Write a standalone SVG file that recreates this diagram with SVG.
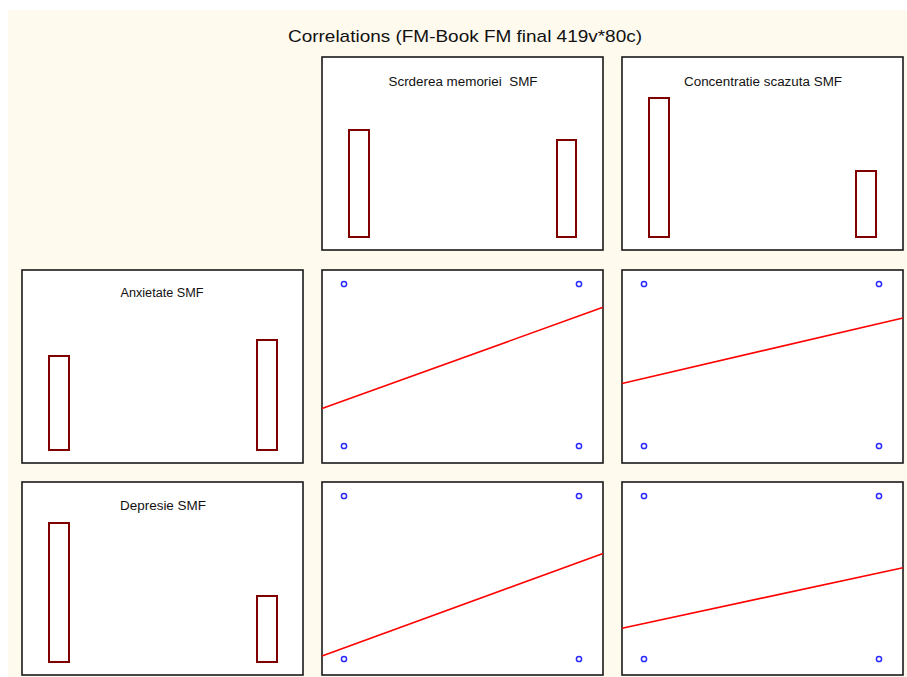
<svg xmlns="http://www.w3.org/2000/svg" width="907" height="677" viewBox="0 0 907 677">
<style>
.bg{fill:#fffaee}
.panel{fill:#ffffff;stroke:#1a1a1a;stroke-width:1.6}
.bar{fill:#ffffff;stroke:#800000;stroke-width:2}
.pt{fill:none;stroke:#2a2aff;stroke-width:1.5}
.fit{stroke:#ff0000;stroke-width:1.6;fill:none}
.title{font-family:"Liberation Sans",Arial,sans-serif;font-size:17px;fill:#111}
.lbl{font-family:"Liberation Sans",Arial,sans-serif;font-size:12.5px;fill:#111}
</style>
<rect x="0" y="0" width="907" height="677" fill="#ffffff"/>
<rect class="bg" x="8" y="10" width="899" height="667"/>
<text class="title" x="465" y="42" text-anchor="middle" textLength="354" lengthAdjust="spacingAndGlyphs">Correlations (FM-Book FM final 419v*80c)</text>

<g id="hist-scrderea">
<rect class="panel" x="322" y="57" width="281" height="193"/>
<text class="lbl" x="463" y="86" text-anchor="middle" textLength="149" lengthAdjust="spacingAndGlyphs" xml:space="preserve">Scrderea memoriei  SMF</text>
<rect class="bar" x="349" y="130" width="20" height="107"/>
<rect class="bar" x="557" y="140" width="19" height="97"/>
</g>
<g id="hist-concentratie">
<rect class="panel" x="622" y="57" width="281" height="193"/>
<text class="lbl" x="763" y="86" text-anchor="middle" textLength="158" lengthAdjust="spacingAndGlyphs">Concentratie scazuta SMF</text>
<rect class="bar" x="649" y="98" width="20" height="139"/>
<rect class="bar" x="856" y="171" width="20" height="66"/>
</g>
<g id="hist-anxietate">
<rect class="panel" x="22" y="270" width="281" height="193"/>
<text class="lbl" x="162" y="297" text-anchor="middle" textLength="83" lengthAdjust="spacingAndGlyphs">Anxietate SMF</text>
<rect class="bar" x="49" y="356" width="20" height="94"/>
<rect class="bar" x="257" y="340" width="20" height="110"/>
</g>
<g id="hist-depresie">
<rect class="panel" x="22" y="482" width="281" height="193"/>
<text class="lbl" x="163" y="510" text-anchor="middle" textLength="86" lengthAdjust="spacingAndGlyphs">Depresie SMF</text>
<rect class="bar" x="49" y="523" width="20" height="139"/>
<rect class="bar" x="257" y="596" width="20" height="66"/>
</g>

<g id="scatter-anx-scr">
<rect class="panel" x="322" y="270" width="281" height="193"/>
<circle class="pt" cx="344" cy="284" r="2.6"/>
<circle class="pt" cx="579" cy="284" r="2.6"/>
<circle class="pt" cx="344" cy="446" r="2.6"/>
<circle class="pt" cx="579" cy="446" r="2.6"/>
</g>
<g id="scatter-anx-con">
<rect class="panel" x="622" y="270" width="281" height="193"/>
<circle class="pt" cx="644" cy="284" r="2.6"/>
<circle class="pt" cx="879" cy="284" r="2.6"/>
<circle class="pt" cx="644" cy="446" r="2.6"/>
<circle class="pt" cx="879" cy="446" r="2.6"/>
</g>
<g id="scatter-dep-scr">
<rect class="panel" x="322" y="482" width="281" height="193"/>
<circle class="pt" cx="344" cy="496" r="2.6"/>
<circle class="pt" cx="579" cy="496" r="2.6"/>
<circle class="pt" cx="344" cy="659" r="2.6"/>
<circle class="pt" cx="579" cy="659" r="2.6"/>
</g>
<g id="scatter-dep-con">
<rect class="panel" x="622" y="482" width="281" height="193"/>
<circle class="pt" cx="644" cy="496" r="2.6"/>
<circle class="pt" cx="879" cy="496" r="2.6"/>
<circle class="pt" cx="644" cy="659" r="2.6"/>
<circle class="pt" cx="879" cy="659" r="2.6"/>
</g>

<g id="fit-lines">
<line class="fit" x1="322" y1="408.5" x2="603" y2="307.3"/>
<line class="fit" x1="622" y1="383.5" x2="903" y2="318"/>
<line class="fit" x1="322" y1="656" x2="603" y2="553.5"/>
<line class="fit" x1="622" y1="628.3" x2="903" y2="567.7"/>
</g>
</svg>
